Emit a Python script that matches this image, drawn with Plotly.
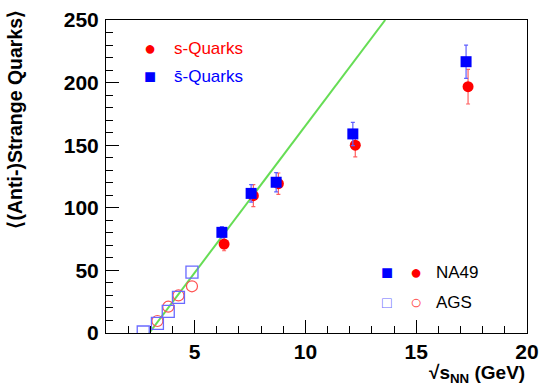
import plotly.graph_objects as go

# NA49 (filled)
na49_s_x = [6.33, 7.65, 8.78, 12.25, 17.34]
na49_s_y = [71, 109.7, 119.3, 150, 196.7]
na49_s_err = [5.3, 8.8, 8.5, 9.3, 13.8]
na49_sbar_x = [6.23, 7.55, 8.68, 12.14, 17.25]
na49_sbar_y = [80.4, 111.5, 120.4, 159, 216.7]
na49_sbar_err = [4.5, 7.0, 7.7, 9.3, 13.3]

# AGS (open)
ags_s_x = [3.32, 3.81, 4.27, 4.88]
ags_s_y = [9.6, 21, 30, 37.3]
ags_sbar_x = [2.68, 3.32, 3.81, 4.27, 4.88]
ags_sbar_y = [0.8, 7.7, 17.3, 28.5, 48.7]

# linear fit line endpoints
fit_x = [2.95, 13.6]
fit_y = [0, 250]

FONT = "Liberation Sans, Arial, Helvetica, sans-serif"
RED = "#ff0000"
BLUE = "#0000ff"

fig = go.Figure()
fig.add_trace(go.Scatter(x=fit_x, y=fit_y, mode="lines",
                         line=dict(color="#66dd55", width=2), showlegend=False))
fig.add_trace(go.Scatter(x=ags_s_x, y=ags_s_y, mode="markers",
                         marker=dict(symbol="circle-open", size=11, color="#ff5050",
                                     line=dict(width=1.2)), showlegend=False))
fig.add_trace(go.Scatter(x=ags_sbar_x, y=ags_sbar_y, mode="markers",
                         marker=dict(symbol="square-open", size=12, color="#6a6aff",
                                     line=dict(width=1.3)), showlegend=False))
fig.add_trace(go.Scatter(x=na49_s_x, y=na49_s_y, mode="markers",
                         error_y=dict(type="data", array=na49_s_err, color="#ff6060",
                                      thickness=1.2, width=2),
                         marker=dict(symbol="circle", size=11, color=RED), showlegend=False))
fig.add_trace(go.Scatter(x=na49_sbar_x, y=na49_sbar_y, mode="markers",
                         error_y=dict(type="data", array=na49_sbar_err, color="#6060ff",
                                      thickness=1.2, width=2),
                         marker=dict(symbol="square", size=11, color=BLUE), showlegend=False))

L, R, T, B = 106, 15, 20, 53
W, H = 542, 386
pw, ph = W - L - R, H - T - B

def px(x):
    return (x - L) / pw

def py(y):
    return (H - B - y) / ph

ann = []
def txt(x, y, text, color, size=18, xanchor="left"):
    ann.append(dict(x=px(x), y=py(y), xref="paper", yref="paper", text=text,
                    showarrow=False, xanchor=xanchor, yanchor="middle",
                    font=dict(family=FONT, size=size, color=color)))

txt(150, 48, "●", RED, 20, "center")
txt(172, 48, "s-Quarks", RED, 17)
txt(150, 76, "■", BLUE, 20, "center")
txt(172, 76, "s\u0304-Quarks", BLUE, 17)
txt(387, 272, "■", BLUE, 20, "center")
txt(416, 272, "●", RED, 20, "center")
txt(434, 272, "NA49", "black", 17)
txt(387, 302, "□", "#6a6aff", 16, "center")
txt(416, 302, "○", "#ff5050", 20, "center")
txt(434, 302, "AGS", "black", 17)

ann.append(dict(x=px(527), y=py(374), xref="paper", yref="paper",
                text="<b>√s<sub>NN</sub> (GeV)</b>", showarrow=False,
                xanchor="right", yanchor="middle",
                font=dict(family=FONT, size=19, color="black")))
ann.append(dict(x=px(15), y=py(8), xref="paper", yref="paper",
                text="<b>⟨(Anti-)Strange Quarks⟩</b>", showarrow=False,
                textangle=-90, xanchor="center", yanchor="top",
                font=dict(family=FONT, size=19.5, color="black")))

axis_common = dict(showline=True, linecolor="black", linewidth=1, mirror=True,
                   ticks="inside", tickcolor="black", showgrid=False, zeroline=False,
                   automargin=False,
                   tickfont=dict(family=FONT, size=21, color="black"))

fig.update_layout(
    width=W, height=H,
    margin=dict(l=L, r=R, t=T, b=B),
    paper_bgcolor="white", plot_bgcolor="white",
    annotations=ann,
    xaxis=dict(range=[1, 20], dtick=5, tick0=0, ticklen=13,
               minor=dict(dtick=1, ticks="inside", ticklen=7, tickcolor="black"),
               tickprefix="<b>", ticksuffix="</b>", **axis_common),
    yaxis=dict(range=[0, 250], dtick=50, ticklen=13,
               minor=dict(dtick=10, ticks="inside", ticklen=7, tickcolor="black"),
               tickprefix="<b>", ticksuffix="</b>", ticklabelstandoff=2, **axis_common),
)

fig.write_html("out.html")
